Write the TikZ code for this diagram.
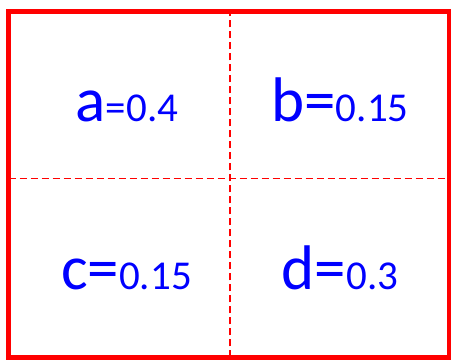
\documentclass[tikz,border=0pt]{standalone}
\usepackage{fontspec}
\setmainfont{Carlito}
\begin{document}
\begin{tikzpicture}[x=1pt,y=1pt,
  frame/.style={draw=red,line width=4.5pt},
  divider/.style={draw=red,line width=1.8pt,dash pattern=on 7pt off 4pt},
  label/.style={text=blue,anchor=base,inner sep=0pt}]
\useasboundingbox (0,0) rectangle (452,361);
\coordinate (tl) at (8.5,349.5);
\coordinate (br) at (449,3.5);
\coordinate (vt) at (230,349.5);
\coordinate (vb) at (230,3.5);
\coordinate (hl) at (8.5,182.5);
\coordinate (hr) at (449,182.5);
\draw[divider] (vb) -- (vt);
\draw[divider] (hl) -- (hr);
\draw[frame] (tl) rectangle (br);
\newcommand{\bigf}{\fontsize{63}{63}\selectfont}
\newcommand{\smallf}{\fontsize{41}{41}\selectfont}
\node[label] (a) at (127,239) {\bigf a\smallf =0.4};
\node[label] (b) at (340,239) {\bigf b=\smallf 0.15};
\node[label] (c) at (126.5,71) {\bigf c=\smallf 0.15};
\node[label] (d) at (340,71) {\bigf d=\smallf 0.3};
\end{tikzpicture}
\end{document}
